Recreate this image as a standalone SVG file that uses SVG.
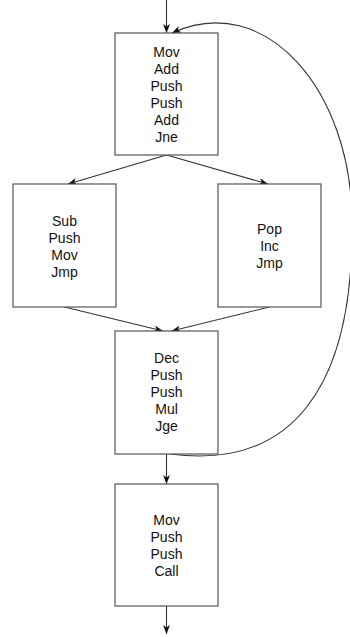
<svg xmlns="http://www.w3.org/2000/svg" width="350" height="637" viewBox="0 0 350 637">
<style>
.box{fill:#fff;stroke:#555;stroke-width:1.2}
.lbl{font-family:"Liberation Sans",Arial,sans-serif;font-size:14px;fill:#111;text-anchor:middle}
.edge{fill:none;stroke:#333;stroke-width:1.1}
</style>
<defs>
<marker id="arr" markerUnits="userSpaceOnUse" markerWidth="10" markerHeight="8" refX="9" refY="3.5" orient="auto" overflow="visible">
<path d="M0,0 L9,3.5 L0,7 L2.5,3.5 Z" fill="#111"/>
</marker>
</defs>
<g id="connectors">
<line class="edge" x1="166.5" y1="0" x2="166.5" y2="33" marker-end="url(#arr)"/>
<line class="edge" x1="166.5" y1="155" x2="68" y2="184" marker-end="url(#arr)"/>
<line class="edge" x1="166.5" y1="155" x2="268" y2="184" marker-end="url(#arr)"/>
<line class="edge" x1="64.5" y1="307" x2="163" y2="331" marker-end="url(#arr)"/>
<line class="edge" x1="269.5" y1="307" x2="171.5" y2="331" marker-end="url(#arr)"/>
<line class="edge" x1="166.5" y1="454" x2="166.5" y2="484" marker-end="url(#arr)"/>
<line class="edge" x1="166.5" y1="606" x2="166.5" y2="634" marker-end="url(#arr)"/>
<path class="edge" d="M170,454 C290,470 354,390 352,222 C352,90 265,-10 172,33" marker-end="url(#arr)"/>
</g>
<g id="node1">
<rect class="box" x="115" y="33" width="103" height="122"/>
<text class="lbl"><tspan x="166.5" y="57.3">Mov</tspan><tspan x="166.5" y="74.3">Add</tspan><tspan x="166.5" y="91.3">Push</tspan><tspan x="166.5" y="108.3">Push</tspan><tspan x="166.5" y="125.3">Add</tspan><tspan x="166.5" y="142.3">Jne</tspan></text>
</g>
<g id="node2">
<rect class="box" x="13" y="184" width="103" height="123"/>
<text class="lbl"><tspan x="64.5" y="225.7">Sub</tspan><tspan x="64.5" y="242.7">Push</tspan><tspan x="64.5" y="259.7">Mov</tspan><tspan x="64.5" y="276.7">Jmp</tspan></text>
</g>
<g id="node3">
<rect class="box" x="218" y="184" width="103" height="123"/>
<text class="lbl"><tspan x="269.5" y="234">Pop</tspan><tspan x="269.5" y="251">Inc</tspan><tspan x="269.5" y="268">Jmp</tspan></text>
</g>
<g id="node4">
<rect class="box" x="115" y="331" width="103" height="123"/>
<text class="lbl"><tspan x="166.5" y="363.3">Dec</tspan><tspan x="166.5" y="380.3">Push</tspan><tspan x="166.5" y="397.3">Push</tspan><tspan x="166.5" y="414.3">Mul</tspan><tspan x="166.5" y="431.3">Jge</tspan></text>
</g>
<g id="node5">
<rect class="box" x="115" y="484" width="103" height="122"/>
<text class="lbl"><tspan x="166.5" y="525">Mov</tspan><tspan x="166.5" y="542">Push</tspan><tspan x="166.5" y="559">Push</tspan><tspan x="166.5" y="576">Call</tspan></text>
</g>
</svg>
